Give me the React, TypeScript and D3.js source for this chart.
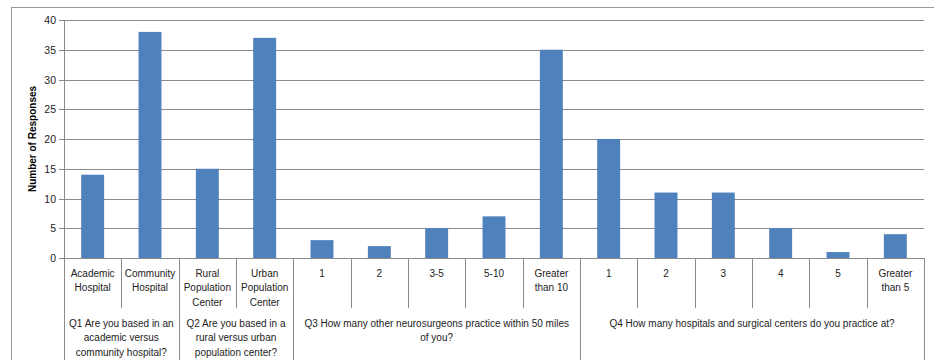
import React from 'react';
import * as d3 from 'd3';

// survey responses, one bar per answer
const categories = [
  ['Academic', 'Hospital'], ['Community', 'Hospital'],
  ['Rural', 'Population', 'Center'], ['Urban', 'Population', 'Center'],
  ['1'], ['2'], ['3-5'], ['5-10'], ['Greater', 'than 10'],
  ['1'], ['2'], ['3'], ['4'], ['5'], ['Greater', 'than 5'],
];
const values = [14, 38, 15, 37, 3, 2, 5, 7, 35, 20, 11, 11, 5, 1, 4];

// question groups under the answers
const groupSizes = [2, 2, 5, 6];
const groupLabels = [
  ['Q1 Are you based in an', 'academic versus', 'community hospital?'],
  ['Q2 Are you based in a', 'rural versus urban', 'population center?'],
  ['Q3 How many other neurosurgeons practice within 50 miles', 'of you?'],
  ['Q4 How many hospitals and surgical centers do you practice at?'],
];
const yTicks = [0, 5, 10, 15, 20, 25, 30, 35, 40];

const W = 934, H = 360;
const left = 64, right = 924, top = 20, bottom = 258;
const grey = '#8a8a8a';
const font = "'Liberation Sans', Arial, sans-serif";

export default function App() {
  const idx = values.map((_, i) => i);
  const x = d3.scaleBand<number>().domain(idx).range([left, right]).paddingInner(0.6).paddingOuter(0.3);
  const y = d3.scaleLinear().domain([0, 40]).range([bottom, top]);
  const step = x.step();
  const edge = (i: number) => left + i * step;

  let acc = 0;
  const groups = groupSizes.map((n, g) => {
    const start = acc;
    acc += n;
    return { start, end: acc, lines: groupLabels[g] };
  });

  return (
    <div style={{ position: 'absolute', left: 0, top: 0 }}>
      <svg width={W} height={H} style={{ display: 'block', fontFamily: font }}>
        <rect x={0} y={0} width={W} height={H} fill="#fff" />
        <rect x={11.5} y={7.5} width={940} height={400} fill="none" stroke="#9a9a9a" strokeWidth={1} />
        {yTicks.map(t => (
          <g key={t}>
            {t > 0 && <line x1={left} x2={right} y1={Math.round(y(t)) + 0.5} y2={Math.round(y(t)) + 0.5} stroke={grey} />}
            <line x1={left - 5} x2={left} y1={Math.round(y(t)) + 0.5} y2={Math.round(y(t)) + 0.5} stroke={grey} />
            <text x={left - 8} y={y(t) + 4} textAnchor="end" fontSize={10.5} fill="#222">{t}</text>
          </g>
        ))}
        <text transform={`translate(36,${(top + bottom) / 2}) rotate(-90)`} textAnchor="middle"
          fontSize={10} fontWeight="bold" fill="#000">Number of Responses</text>
        {values.map((v, i) => (
          <rect key={i} x={x(i)} y={y(v)} width={x.bandwidth()} height={bottom - y(v)} fill="#4f81bd" />
        ))}
        {/* axes */}
        <line x1={left + 0.5} x2={left + 0.5} y1={top} y2={H} stroke={grey} />
        <line x1={left} x2={right} y1={bottom + 0.5} y2={bottom + 0.5} stroke={grey} />
        {idx.slice(1).map(i => (
          <line key={i} x1={Math.round(edge(i)) + 0.5} x2={Math.round(edge(i)) + 0.5}
            y1={bottom} y2={308} stroke={grey} />
        ))}
        {groups.map((g, k) => (
          <line key={k} x1={Math.round(edge(g.end)) + 0.5} x2={Math.round(edge(g.end)) + 0.5}
            y1={bottom} y2={H} stroke={grey} />
        ))}
        {categories.map((lines, i) => (
          <text key={i} textAnchor="middle" fontSize={10} fill="#222">
            {lines.map((s, j) => (
              <tspan key={j} x={edge(i) + step / 2} y={277 + j * 14.3}>{s}</tspan>
            ))}
          </text>
        ))}
        {groups.map((g, k) => (
          <text key={k} textAnchor="middle" fontSize={10} fill="#222">
            {g.lines.map((s, j) => (
              <tspan key={j} x={(edge(g.start) + edge(g.end)) / 2} y={327 + j * 14.3}>{s}</tspan>
            ))}
          </text>
        ))}
      </svg>
    </div>
  );
}
